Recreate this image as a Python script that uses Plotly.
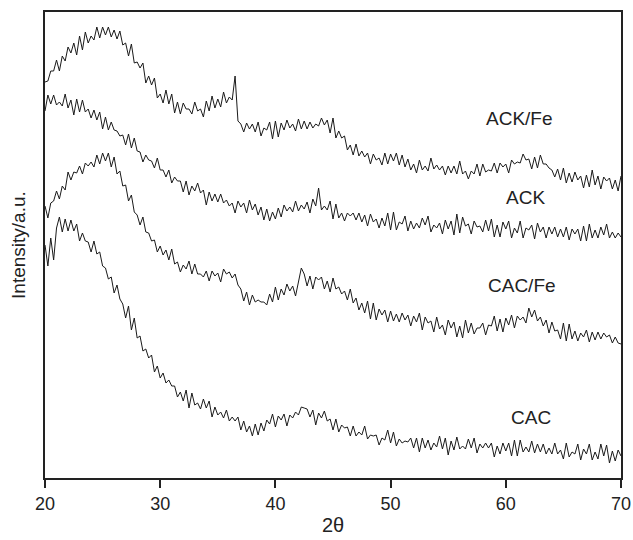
import plotly.graph_objects as go

two_theta_start = 20.0
two_theta_step = 0.25

ack_fe = [
396, 397, 407, 407, 418, 407, 422, 417, 431, 425, 435, 423, 442, 428, 446, 435,
442, 438, 451, 440, 451, 443, 451, 441, 448, 439, 447, 433, 435, 422, 434, 415,
416, 410, 415, 395, 402, 393, 400, 380, 384, 375, 388, 374, 384, 365, 376, 364,
375, 369, 369, 364, 376, 367, 369, 361, 377, 367, 382, 370, 379, 371, 386, 375,
381, 378, 402, 357, 354, 346, 355, 349, 354, 346, 356, 342, 350, 348, 356, 339,
357, 341, 355, 348, 358, 350, 354, 347, 359, 349, 357, 349, 356, 350, 354, 352,
360, 353, 358, 345, 360, 340, 347, 340, 342, 328, 333, 323, 334, 322, 327, 321,
325, 314, 324, 318, 320, 313, 325, 314, 324, 317, 325, 313, 323, 311, 319, 308,
314, 305, 318, 308, 312, 307, 320, 309, 313, 308, 312, 303, 312, 305, 312, 304,
317, 304, 307, 299, 307, 304, 314, 302, 314, 306, 308, 307, 315, 305, 315, 311,
314, 305, 318, 314, 316, 315, 324, 318, 319, 309, 321, 310, 323, 314, 314, 310,
308, 301, 309, 298, 310, 295, 305, 296, 306, 298, 302, 290, 303, 291, 308, 293,
302, 289, 301, 297, 300, 289, 298, 287, 302]

ack = [
367, 383, 374, 383, 373, 376, 372, 384, 370, 378, 363, 379, 366, 378, 366, 369,
360, 368, 358, 366, 349, 361, 348, 356, 348, 347, 342, 343, 333, 344, 330, 340,
327, 326, 316, 323, 318, 317, 310, 320, 308, 308, 301, 308, 295, 301, 297, 297,
286, 297, 283, 292, 287, 295, 285, 288, 273, 286, 277, 284, 276, 284, 275, 278,
272, 275, 265, 277, 271, 275, 265, 278, 268, 274, 263, 271, 258, 269, 257, 266,
259, 270, 261, 273, 267, 271, 266, 277, 267, 273, 269, 276, 265, 279, 272, 290,
268, 272, 268, 277, 259, 274, 260, 265, 257, 265, 262, 265, 258, 265, 256, 263,
252, 264, 256, 259, 250, 260, 252, 265, 248, 266, 248, 256, 254, 262, 247, 257,
249, 255, 250, 260, 253, 262, 246, 253, 250, 255, 244, 258, 249, 257, 243, 264,
245, 261, 252, 254, 244, 257, 251, 252, 246, 258, 247, 259, 241, 253, 241, 256,
249, 257, 240, 250, 245, 257, 240, 250, 248, 253, 239, 255, 246, 251, 240, 251,
244, 251, 241, 249, 241, 251, 238, 249, 244, 249, 237, 252, 237, 254, 240, 248,
240, 251, 243, 254, 240, 246, 240, 245, 241]

cac_fe = [
272, 260, 275, 277, 287, 279, 292, 288, 306, 298, 306, 305, 312, 304, 315, 312,
316, 311, 323, 314, 325, 317, 325, 311, 321, 304, 307, 292, 293, 277, 283, 266,
263, 253, 261, 246, 245, 237, 238, 226, 232, 223, 228, 218, 229, 214, 216, 206,
213, 209, 217, 204, 214, 204, 204, 201, 207, 197, 207, 202, 205, 196, 209, 204,
206, 200, 204, 193, 189, 177, 186, 173, 183, 176, 178, 176, 176, 173, 184, 176,
191, 178, 189, 183, 194, 187, 192, 182, 196, 210, 204, 192, 202, 189, 201, 198,
201, 189, 197, 186, 200, 189, 191, 184, 187, 178, 189, 175, 180, 168, 175, 165,
177, 159, 175, 158, 169, 163, 168, 156, 167, 157, 164, 156, 165, 158, 163, 152,
162, 156, 165, 148, 161, 155, 157, 146, 161, 149, 153, 143, 158, 150, 156, 141,
152, 140, 158, 145, 155, 144, 150, 150, 155, 143, 153, 152, 162, 147, 159, 146,
160, 153, 163, 150, 162, 158, 161, 155, 170, 161, 168, 157, 161, 152, 158, 145,
156, 147, 148, 139, 155, 137, 154, 139, 147, 137, 145, 141, 148, 136, 146, 138,
146, 139, 145, 141, 143, 135, 141, 135, 134]

cac = [
233, 212, 240, 218, 250, 261, 246, 259, 247, 258, 247, 254, 237, 245, 237, 236,
226, 237, 224, 226, 212, 210, 199, 201, 185, 193, 179, 174, 160, 172, 148, 160,
140, 142, 127, 129, 120, 123, 106, 112, 100, 105, 95, 98, 92, 92, 81, 86,
77, 88, 70, 85, 73, 75, 69, 79, 70, 77, 61, 71, 63, 66, 60, 68,
57, 61, 57, 61, 48, 57, 46, 52, 42, 54, 43, 55, 47, 58, 54, 64,
51, 62, 58, 64, 52, 63, 60, 66, 63, 71, 70, 69, 61, 68, 53, 65,
60, 67, 57, 59, 48, 59, 46, 53, 50, 51, 42, 52, 42, 46, 43, 52,
39, 43, 42, 43, 33, 40, 38, 48, 35, 46, 32, 39, 35, 37, 36, 40,
30, 40, 26, 40, 30, 38, 28, 35, 31, 42, 29, 40, 23, 37, 28, 41,
29, 32, 29, 39, 30, 40, 25, 34, 30, 35, 30, 35, 21, 32, 24, 35,
27, 35, 22, 38, 22, 38, 26, 31, 26, 37, 25, 34, 26, 34, 24, 30,
24, 35, 24, 28, 19, 35, 21, 26, 24, 34, 18, 29, 24, 34, 18, 26,
19, 34, 22, 33, 15, 27, 17, 28, 22]

series = [("ACK/Fe", ack_fe), ("ACK", ack), ("CAC/Fe", cac_fe), ("CAC", cac)]
label_pos = {"ACK/Fe": (61.2, 360), "ACK": (61.75, 281), "CAC/Fe": (61.4, 193), "CAC": (62.2, 61)}
x_ticks = [20, 30, 40, 50, 60, 70]

font_family = "Liberation Sans, Arial"

fig = go.Figure()
for name, vals in series:
    xs = [two_theta_start + i * two_theta_step for i in range(len(vals))]
    fig.add_trace(go.Scatter(x=xs, y=vals, mode="lines", name=name,
                             line=dict(color="#1a1a1a", width=1), showlegend=False))
    lx, ly = label_pos[name]
    fig.add_annotation(x=lx, y=ly, text=name, showarrow=False,
                       font=dict(family=font_family, size=19, color="#222"))

fig.add_annotation(xref="paper", yref="paper", x=-0.047, y=0.5, text="Intensity/a.u.",
                   textangle=-90, showarrow=False, xanchor="center", yanchor="middle",
                   font=dict(family=font_family, size=19, color="#222"))
fig.add_annotation(xref="paper", yref="paper", x=0.5, y=-0.072, text="2θ",
                   showarrow=False, xanchor="center", yanchor="top",
                   font=dict(family=font_family, size=20, color="#222"))

fig.update_layout(
    width=633, height=540,
    margin=dict(l=45, r=12, t=12, b=62, autoexpand=False),
    plot_bgcolor="white", paper_bgcolor="white",
    xaxis=dict(range=[20, 70], tickvals=x_ticks, ticks="outside", ticklen=8,
               tickwidth=1.5, tickcolor="#222", showline=True, linecolor="#222",
               linewidth=2, mirror=True, showgrid=False, zeroline=False,
               automargin=False, ticklabeloverflow="allow",
               tickfont=dict(family=font_family, size=18, color="#222")),
    yaxis=dict(range=[0, 466], showticklabels=False, ticks="", showline=True,
               linecolor="#222", linewidth=2, mirror=True, showgrid=False, zeroline=False,
               automargin=False),
)
fig.write_html(
    "out.html",
    config={"displayModeBar": False},
    post_script="document.body.style.margin='0';document.body.style.overflow='hidden';"
                "document.documentElement.style.overflow='hidden';",
)
